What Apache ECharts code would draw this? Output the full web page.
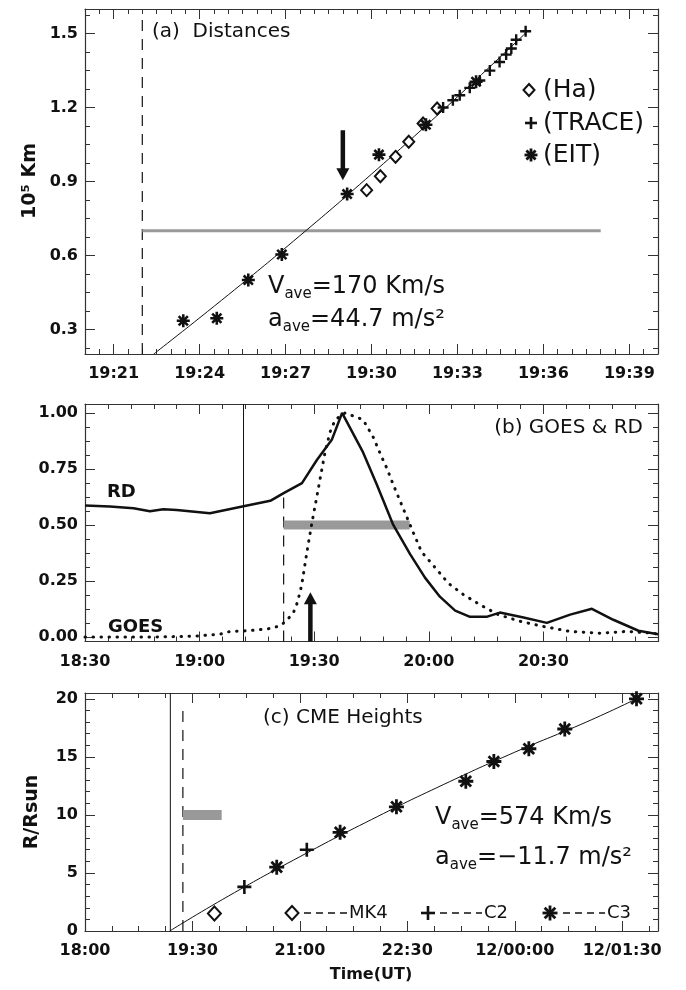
<!DOCTYPE html>
<html><head><meta charset="utf-8">
<script src="https://cdn.jsdelivr.net/npm/echarts@6/dist/echarts.min.js"></script>
<style>html,body{margin:0;padding:0;background:#fff}#c{width:686px;height:990px}</style>
</head><body><div id="c"></div>
<script>
// ---------- Panel (a): Distances (x: minutes after 19:00, y: 10^5 km) ----------
const aXTicks = [21, 24, 27, 30, 33, 36, 39];
const aXLabels = ['19:21', '19:24', '19:27', '19:30', '19:33', '19:36', '19:39'];
const aYTicks = [0.3, 0.6, 0.9, 1.2, 1.5];
const aYLabels = ['0.3', '0.6', '0.9', '1.2', '1.5'];
const aHaT = [29.83, 30.31, 30.84, 31.30, 31.80, 32.29];
const aHaV = [0.865, 0.921, 1.000, 1.061, 1.135, 1.196];
const aTraceT = [32.50, 32.84, 33.08, 33.43, 33.78, 34.13, 34.47, 34.70, 34.88, 35.05, 35.38];
const aTraceV = [1.200, 1.230, 1.250, 1.280, 1.310, 1.350, 1.385, 1.415, 1.440, 1.475, 1.510];
const aEitT = [23.43, 24.60, 25.70, 26.87, 29.15, 30.26, 31.90, 33.65];
const aEitV = [0.335, 0.345, 0.500, 0.604, 0.849, 1.009, 1.130, 1.305];
const aFitT = [22.4, 25.0, 27.5, 30.0, 32.5, 35.45];
const aFitV = [0.20, 0.44, 0.68, 0.93, 1.19, 1.51];
const aDashT = 22.0, aDashV = [0.2, 1.56];
const aGrayT = [22.0, 38.0], aGrayV = 0.70;
const aArrowT = 29.0, aArrowV = [1.108, 0.905];

// ---------- Panel (b): GOES & RD (x: minutes after 18:30) ----------
const bXTicks = [0, 30, 60, 90, 120, 150];
const bXLabelVals = [0, 30, 60, 90, 120];
const bXLabels = ['18:30', '19:00', '19:30', '20:00', '20:30'];
const bYTicks = [0, 0.25, 0.5, 0.75, 1.0];
const bYLabels = ['0.00', '0.25', '0.50', '0.75', '1.00'];
const rdT = [0, 6.5, 12.7, 17, 20.5, 24, 32.7, 41.5, 48.5, 52, 56.8, 60.7, 64.6, 67.3, 72.8, 76.3, 80.7, 85.1, 89, 92.9, 96.9, 100.8, 105.1, 108.6, 114.8, 120.9, 127, 132.7, 138.3, 144.9, 150];
const rdV = [0.587, 0.582, 0.575, 0.561, 0.570, 0.567, 0.552, 0.584, 0.608, 0.642, 0.687, 0.79, 0.88, 1.0, 0.824, 0.684, 0.5, 0.37, 0.265, 0.18, 0.118, 0.09, 0.09, 0.109, 0.087, 0.063, 0.10, 0.126, 0.077, 0.028, 0.012];
const goesT = [0, 5.7, 11.3, 17, 24, 29.7, 35.4, 38, 42.8, 48, 51.1, 52.8, 54.6, 55.5, 56.3, 56.8, 58.1, 59.4, 60.7, 61.8, 62.9, 64.2, 65.5, 68.1, 72.8, 75.5, 77.6, 79, 80.7, 82.9, 86, 88.1, 90.3, 92.9, 95.1, 99, 103.4, 108.2, 113.9, 120, 127, 134.8, 141.8, 148.8, 150];
const goesV = [0.0, 0.0, 0.0, 0.0, 0.002, 0.005, 0.013, 0.025, 0.028, 0.037, 0.05, 0.074, 0.11, 0.15, 0.2, 0.24, 0.38, 0.51, 0.627, 0.73, 0.83, 0.917, 0.97, 1.0, 0.97, 0.89, 0.806, 0.754, 0.68, 0.59, 0.464, 0.38, 0.337, 0.285, 0.24, 0.19, 0.144, 0.10, 0.07, 0.047, 0.025, 0.017, 0.025, 0.017, 0.012];
const bSolidT = 41.5, bDashT = 52.0, bDashV = [-0.02, 0.64];
const bGrayT = [52.0, 85.0], bGrayV = 0.50;
const bArrowT = 59.0, bArrowV = [-0.02, 0.20];

// ---------- Panel (c): CME heights (x: minutes after 18:00, y: R/Rsun) ----------
const cXTicks = [0, 90, 180, 270, 360, 450];
const cXLabels = ['18:00', '19:30', '21:00', '22:30', '12/00:00', '12/01:30'];
const cYTicks = [0, 5, 10, 15, 20];
const cYLabels = ['0', '5', '10', '15', '20'];
const cMk4T = [108.4], cMk4V = [1.5];
const cC2T = [133.5, 185.8], cC2V = [3.8, 7.0];
const cC3T = [160.6, 213.7, 260.9, 319, 342.5, 371.8, 401.9, 462];
const cC3V = [5.5, 8.5, 10.7, 12.9, 14.6, 15.7, 17.4, 20.0];
const cFitT = [71, 120, 180, 240, 300, 360, 420, 462];
const cFitV = [0, 3.0, 6.4, 9.6, 12.6, 15.4, 18.0, 20.0];
const cSolidT = 71.5, cDashT = 82.0, cDashV = [0, 19.2];
const cGrayT = [82.0, 114.5], cGrayV = 10;

// ---------- helpers ----------
const FONT = 'DejaVu Sans';
const AX = '#333', INK = '#111', GRAY = '#999';
const zip = (a, b) => a.map((v, i) => [v, b[i]]);
function steps(a, b, s) { const r = []; for (let k = 0; a + k * s <= b + 1e-9; k++) r.push(+(a + k * s).toFixed(6)); return r; }
function lookup(vals, labs) { return v => { const i = vals.findIndex(t => Math.abs(t - v) < 1e-6); return i < 0 ? '' : labs[i]; }; }

const xAxes = [], yAxes = [];
function addAxes(g, c) {
  const base = { gridIndex: g, type: 'value', splitLine: { show: false } };
  const lab = { fontFamily: FONT, fontSize: 16, fontWeight: 'bold', color: INK };
  const mk = (pos, isX, major, withLabel, line) => {
    const o = Object.assign({}, base, {
      min: isX ? c.xmin : c.ymin, max: isX ? c.xmax : c.ymax, position: pos,
      axisLine: line ? { show: true, onZero: false, lineStyle: { color: AX, width: 1.2 } } : { show: false, onZero: false },
      axisTick: { show: true, inside: true, length: major ? 10 : 5, customValues: major ? (isX ? c.xMajor : c.yMajor) : (isX ? c.xMinor : c.yMinor), lineStyle: { color: AX, width: 1 } },
      axisLabel: { show: false }
    });
    if (withLabel) {
      o.axisLabel = Object.assign({ show: true, margin: isX ? 12 : 7,
        customValues: isX ? c.xLabVals : c.yMajor,
        formatter: isX ? lookup(c.xLabVals, c.xLabs) : lookup(c.yMajor, c.yLabs) }, lab);
    }
    return o;
  };
  xAxes.push(mk('bottom', true, true, true, true), mk('bottom', true, false, false, false),
             mk('top', true, true, false, true), mk('top', true, false, false, false));
  yAxes.push(mk('left', false, true, true, true), mk('left', false, false, false, false),
             mk('right', false, true, false, true), mk('right', false, false, false, false));
}

addAxes(0, { xmin: 20, xmax: 40, xMajor: aXTicks, xLabVals: aXTicks, xLabs: aXLabels, xMinor: steps(20, 40, 0.5),
  ymin: 0.2, ymax: 1.6, yMajor: aYTicks, yLabs: aYLabels, yMinor: steps(0.225, 1.6, 0.075) });
addAxes(1, { xmin: 0, xmax: 150, xMajor: bXTicks, xLabVals: bXLabelVals, xLabs: bXLabels, xMinor: steps(0, 150, 6),
  ymin: -0.02, ymax: 1.04, yMajor: bYTicks, yLabs: bYLabels, yMinor: steps(0, 1, 0.0625) });
addAxes(2, { xmin: 0, xmax: 480, xMajor: cXTicks, xLabVals: cXTicks, xLabs: cXLabels, xMinor: steps(0, 480, 22.5),
  ymin: 0, ymax: 20.5, yMajor: cYTicks, yLabs: cYLabels, yMinor: steps(0, 20, 1) });

const ASTER = 'path://M0,5L10,5M5,0L5,10M1.46,1.46L8.54,8.54M8.54,1.46L1.46,8.54';
const PLUS = 'path://M0,5L10,5M5,0L5,10';
const ax = g => ({ xAxisIndex: g * 4, yAxisIndex: g * 4 });
function line(g, data, style, extra) {
  return Object.assign({ type: 'line', ...ax(g), data, symbol: 'none', silent: true, animation: false, lineStyle: style }, extra || {});
}
function scat(g, data, symbol, size, style, z) {
  return { type: 'scatter', ...ax(g), data, symbol, symbolSize: size, itemStyle: Object.assign({ opacity: 1 }, style), z: z || 5, animation: false, silent: true };
}
const aster = { color: 'none', borderColor: INK, borderWidth: 2.6 };
const plus = { color: 'none', borderColor: INK, borderWidth: 2.4 };
const diam = { color: INK, borderColor: INK, borderWidth: 1.9 };
function arrow(g, t, v, down) {
  return [
    line(g, [[t, v[0]], [t, v[1] + (down ? 0.04 : -0.04)]], { color: INK, width: 4.5 }),
    { type: 'scatter', ...ax(g), data: [[t, v[1]]], symbol: 'triangle', symbolSize: [13, 12],
      symbolRotate: down ? 180 : 0, symbolOffset: [0, down ? -6 : 6], itemStyle: { color: INK, opacity: 1 }, silent: true, animation: false, z: 6 }
  ];
}

const series = [
  // (a)
  line(0, [[aDashT, aDashV[0]], [aDashT, aDashV[1]]], { color: INK, width: 1.2, type: [11, 8] }),
  line(0, [[aGrayT[0], aGrayV], [aGrayT[1], aGrayV]], { color: GRAY, width: 3 }),
  line(0, zip(aFitT, aFitV), { color: INK, width: 1 }, { smooth: true }),
  scat(0, zip(aHaT, aHaV), 'emptyDiamond', [11, 12], diam),
  scat(0, zip(aTraceT, aTraceV), PLUS, 11, plus),
  scat(0, zip(aEitT, aEitV), ASTER, 13, aster),
  ...arrow(0, aArrowT, aArrowV, true),
  // (b)
  line(1, [[bSolidT, -0.02], [bSolidT, 1.04]], { color: INK, width: 1 }),
  line(1, [[bDashT, bDashV[0]], [bDashT, bDashV[1]]], { color: INK, width: 1.2, type: [11, 8] }),
  line(1, [[bGrayT[0], bGrayV], [bGrayT[1], bGrayV]], { color: GRAY, width: 9 }),
  line(1, zip(goesT, goesV), { color: INK, width: 3, type: [0.5, 7.5], cap: 'round' }),
  line(1, zip(rdT, rdV), { color: INK, width: 2.5 }),
  ...arrow(1, bArrowT, bArrowV, false),
  // (c)
  line(2, [[cSolidT, 0], [cSolidT, 20.5]], { color: INK, width: 1 }),
  line(2, [[cDashT, cDashV[0]], [cDashT, cDashV[1]]], { color: INK, width: 1.2, type: [11, 8] }),
  line(2, [[cGrayT[0], cGrayV], [cGrayT[1], cGrayV]], { color: GRAY, width: 10 }),
  line(2, zip(cFitT, cFitV), { color: INK, width: 1 }, { smooth: true }),
  scat(2, zip(cMk4T, cMk4V), 'emptyDiamond', [13, 14], diam),
  scat(2, zip(cC2T, cC2V), PLUS, 14, { color: 'none', borderColor: INK, borderWidth: 2.6 }),
  scat(2, zip(cC3T, cC3V), ASTER, 15, { color: 'none', borderColor: INK, borderWidth: 2.8 }),
];

// ---------- text / legends ----------
const cv = document.createElement('canvas').getContext('2d');
function tw(t, size, w) { cv.font = (w || 'normal') + ' ' + size + 'px "' + FONT + '"'; return cv.measureText(t).width; }
function txt(x, y, t, size, opt) {
  opt = opt || {};
  return { type: 'text', x, y, rotation: opt.rot || 0, z: 100,
    style: { text: t, fontFamily: FONT, fontSize: size, fontWeight: opt.w || 'normal', fill: INK,
      align: opt.align || 'left', verticalAlign: 'middle' } };
}
function sub(x, y, parts) {
  const out = [];
  parts.forEach(p => { out.push(txt(x, y + (p.dy || 0), p.t, p.s)); x += tw(p.t, p.s); });
  return out;
}
function gDiamond(x, y, w, h) { return { type: 'polygon', z: 100, shape: { points: [[x, y - h / 2], [x + w / 2, y], [x, y + h / 2], [x - w / 2, y]] }, style: { fill: '#fff', stroke: INK, lineWidth: 2 } }; }
function gLine(x1, y1, x2, y2, lw, dash) { return { type: 'line', z: 100, shape: { x1, y1, x2, y2 }, style: { stroke: INK, lineWidth: lw, lineDash: dash || null } }; }
function gPlus(x, y, r) { return [gLine(x - r, y, x + r, y, 2.6), gLine(x, y - r, x, y + r, 2.6)]; }
function gAster(x, y, r) { const d = r * 0.707; return [gLine(x - r, y, x + r, y, 2.8), gLine(x, y - r, x, y + r, 2.8), gLine(x - d, y - d, x + d, y + d, 2.8), gLine(x - d, y + d, x + d, y - d, 2.8)]; }

const graphic = [
  txt(152, 32, '(a)  Distances', 20),
  gDiamond(529, 90, 11, 12), txt(543, 90, '(Ha)', 25),
  ...gPlus(531, 123, 6), txt(543, 123, '(TRACE)', 25),
  ...gAster(531, 155, 6.5), txt(543, 155, '(EIT)', 25),
  ...sub(268, 287, [{ t: 'V', s: 24 }, { t: 'ave', s: 15, dy: 7 }, { t: '=170 Km/s', s: 24 }]),
  ...sub(268, 320, [{ t: 'a', s: 24 }, { t: 'ave', s: 15, dy: 7 }, { t: '=44.7 m/s²', s: 24 }]),
  txt(30, 181, '10⁵ Km', 19, { w: 'bold', align: 'center', rot: Math.PI / 2 }),
  // (b)
  txt(643, 428, '(b) GOES & RD', 20, { align: 'right' }),
  txt(107, 492, 'RD', 18, { w: 'bold' }),
  txt(108, 627, 'GOES', 18, { w: 'bold' }),
  // (c)
  txt(263, 718, '(c) CME Heights', 20),
  ...sub(435, 818, [{ t: 'V', s: 24 }, { t: 'ave', s: 15, dy: 7 }, { t: '=574 Km/s', s: 24 }]),
  ...sub(435, 858, [{ t: 'a', s: 24 }, { t: 'ave', s: 15, dy: 7 }, { t: '=\u221211.7 m/s²', s: 24 }]),
  gDiamond(292, 913, 13, 14), gLine(304, 913, 348, 913, 1.5, [7, 5]), txt(349, 913, 'MK4', 18),
  ...gPlus(428, 913, 7), gLine(440, 913, 482, 913, 1.5, [7, 5]), txt(484, 913, 'C2', 18),
  ...gAster(550, 913, 7.5), gLine(563, 913, 605, 913, 1.5, [7, 5]), txt(607, 913, 'C3', 18),
  txt(32, 812, 'R/Rsun', 19, { w: 'bold', align: 'center', rot: Math.PI / 2 }),
  txt(371, 975, 'Time(UT)', 16, { w: 'bold', align: 'center' }),
];

const chart = echarts.init(document.getElementById('c'), null, { renderer: 'canvas' });
chart.setOption({
  backgroundColor: '#fff',
  animation: false,
  grid: [
    { left: 85, top: 9, width: 573, height: 345 },
    { left: 85, top: 404, width: 573, height: 237.5 },
    { left: 85, top: 693, width: 573, height: 238 }
  ],
  xAxis: xAxes, yAxis: yAxes, series, graphic
});
</script></body></html>
